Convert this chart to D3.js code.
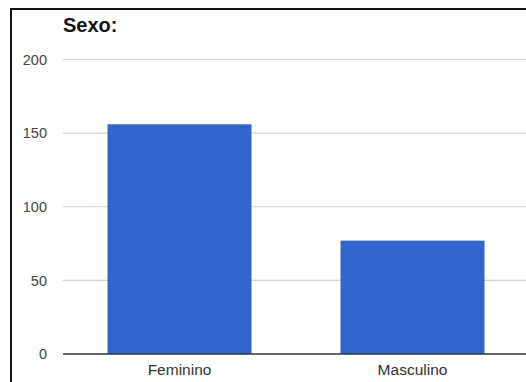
<!DOCTYPE html>
<html>
<head>
<meta charset="utf-8">
<script src="https://cdn.jsdelivr.net/npm/d3@7"></script>
<style>
  body { margin: 0; background: #fff; }
  svg { display: block; font-family: Arial, "Liberation Sans", sans-serif; }
</style>
</head>
<body>
<svg id="chart" width="526" height="382"></svg>
<script>
// data
var categories = ["Feminino", "Masculino"]
var values = [156, 77]
var yTicks = [0, 50, 100, 150, 200]
var title = "Sexo:"

var W = 526, H = 382
var plot = { left: 63, right: 529, top: 59.5, bottom: 354 }

var svg = d3.select("#chart")

// frame around the chart
svg.append("rect")
    .attr("x", 11).attr("y", 9)
    .attr("width", W).attr("height", H)
    .attr("fill", "#fff")
    .attr("stroke", "#111")
    .attr("stroke-width", 2)

var x = d3.scaleBand()
    .domain(categories)
    .range([plot.left, plot.right])
    .paddingInner(0.382)
    .paddingOuter(0.191)

var y = d3.scaleLinear()
    .domain([0, 200])
    .range([plot.bottom, plot.top])

// grid lines
svg.append("g")
    .selectAll("line")
    .data(yTicks.filter(d => d > 0))
    .join("line")
        .attr("x1", plot.left).attr("x2", W)
        .attr("y1", d => y(d)).attr("y2", d => y(d))
        .attr("stroke", "#d0d0d0")
        .attr("stroke-width", 1.2)

// y axis labels
var yAxis = svg.append("g")
    .attr("transform", "translate(" + (plot.left - 16) + ",0)")
    .call(d3.axisLeft(y).tickValues(yTicks).tickSize(0).tickPadding(0))
yAxis.select(".domain").remove()
yAxis.selectAll("text")
    .attr("font-size", 14.5)
    .attr("fill", "#444")
    .attr("font-family", "Arial, 'Liberation Sans', sans-serif")

// bars
svg.append("g")
    .selectAll("rect")
    .data(values)
    .join("rect")
        .attr("x", (d, i) => x(categories[i]))
        .attr("width", x.bandwidth())
        .attr("y", d => y(d))
        .attr("height", d => y(0) - y(d))
        .attr("fill", "#3366cc")

// baseline
svg.append("line")
    .attr("x1", plot.left).attr("x2", W)
    .attr("y1", y(0)).attr("y2", y(0))
    .attr("stroke", "#333")
    .attr("stroke-width", 1.5)

// x axis labels
var xAxis = svg.append("g")
    .attr("transform", "translate(0," + y(0) + ")")
    .call(d3.axisBottom(x).tickSize(0).tickPadding(10))
xAxis.select(".domain").remove()
xAxis.selectAll("text")
    .attr("font-size", 15.5)
    .attr("fill", "#333")
    .attr("font-family", "Arial, 'Liberation Sans', sans-serif")

// title
svg.append("text")
    .attr("x", plot.left)
    .attr("y", 32)
    .attr("font-size", 20)
    .attr("font-weight", "bold")
    .attr("fill", "#111")
    .text(title)
</script>
</body>
</html>
